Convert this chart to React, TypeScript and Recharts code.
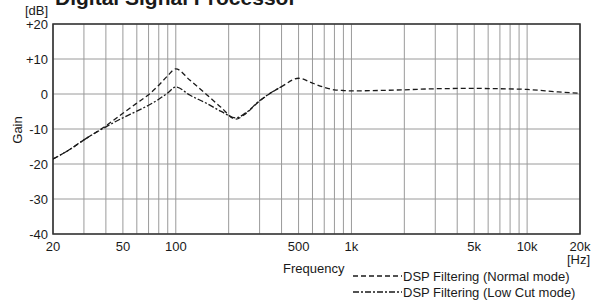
import { LineChart, CartesianGrid, XAxis, YAxis, Line, ReferenceArea } from 'recharts';

// frequency points (Hz)
const freqs = [20, 25, 30, 40, 50, 60, 70, 80, 90, 100, 120, 150, 180, 220, 250, 300, 400, 500, 600, 700, 800, 900, 1000, 2000, 3000, 5000, 7000, 10000, 15000, 20000];
// gain in dB
const normalMode = [-18.6, -15.8, -13.1, -9.1, -5.5, -2.6, -0.2, 2.5, 5.2, 7.2, 4.0, -0.2, -3.7, -7.2, -5.6, -2.0, 2.1, 4.5, 3.1, 1.9, 1.2, 1.0, 0.9, 1.2, 1.5, 1.6, 1.5, 1.3, 0.6, 0.2];
const lowCutMode = [-18.6, -15.8, -13.1, -9.4, -6.8, -4.9, -3.2, -1.5, 0.3, 2.0, -0.3, -2.7, -4.9, -6.8, -5.4, -1.9, 2.1, null, null, null, null, null, null, null, null, null, null, null, null, null];

const gridFreqs = [20, 30, 40, 50, 60, 70, 80, 90, 100, 200, 300, 400, 500, 600, 700, 800, 900, 1000, 2000, 3000, 4000, 5000, 6000, 7000, 8000, 9000, 10000, 20000];
const freqLabels: Record<number, string> = { 20: '20', 50: '50', 100: '100', 500: '500', 1000: '1k', 5000: '5k', 10000: '10k', 20000: '20k' };
const gainTicks = [-40, -30, -20, -10, 0, 10, 20];

const series = [
    { key: 'normal', name: 'DSP Filtering (Normal mode)', dash: '5 3' },
    { key: 'lowcut', name: 'DSP Filtering (Low Cut mode)', dash: '6 2 2 2' },
];

const chartData = freqs.map((f, i) => ({ f, normal: normalMode[i], lowcut: lowCutMode[i] }));

const font = '"Liberation Sans", Arial, sans-serif';
const ink = '#1a1a1a';

export default function App() {
    return (
        <div style={{ position: 'absolute', left: 0, top: 0, width: 598, height: 300, fontFamily: font, color: ink, overflow: 'hidden', background: '#fff' }}>
            <LineChart width={598} height={300} data={chartData} margin={{ top: 24, right: 18, bottom: 36, left: 0 }}>
                <CartesianGrid stroke="#9a9a9a" strokeWidth={1} />
                <XAxis
                    dataKey="f"
                    type="number"
                    scale="log"
                    domain={[20, 20000]}
                    ticks={gridFreqs}
                    interval={0}
                    allowDataOverflow
                    tickLine={false}
                    axisLine={false}
                    height={30}
                    tickSize={0}
                    tickMargin={8}
                    tickFormatter={(v: number) => freqLabels[v] || ''}
                    tick={{ fill: ink, fontSize: 13, fontFamily: font }}
                />
                <YAxis
                    type="number"
                    domain={[-40, 20]}
                    ticks={gainTicks}
                    interval={0}
                    width={53}
                    tickLine={false}
                    axisLine={false}
                    tickSize={0}
                    tickMargin={5}
                    tickFormatter={(v: number) => (v > 0 ? '+' + v : String(v))}
                    tick={{ fill: ink, fontSize: 13, fontFamily: font }}
                />
                <ReferenceArea x1={20} x2={20000} y1={-40} y2={20} fill="none" stroke="#333" strokeWidth={1.6} />
                {series.map(s => (
                    <Line
                        key={s.key}
                        type="monotone"
                        dataKey={s.key}
                        name={s.name}
                        stroke={ink}
                        strokeWidth={1.3}
                        strokeDasharray={s.dash}
                        dot={false}
                        connectNulls={false}
                        isAnimationActive={false}
                    />
                ))}
            </LineChart>

            <div style={{ position: 'absolute', left: 55, top: -13, fontSize: 21, fontWeight: 'bold', lineHeight: 1, whiteSpace: 'nowrap' }}>
                Digital Signal Processor
            </div>
            <div style={{ position: 'absolute', left: 0, width: 48, top: 4, fontSize: 13, lineHeight: 1, textAlign: 'right' }}>[dB]</div>
            <div style={{ position: 'absolute', left: 17, top: 130, fontSize: 13, lineHeight: 1, transform: 'translate(-50%, -50%) rotate(-90deg)' }}>Gain</div>
            <div style={{ position: 'absolute', left: 540, width: 50, top: 253, fontSize: 13, lineHeight: 1, textAlign: 'right' }}>[Hz]</div>
            <div style={{ position: 'absolute', left: 283, top: 262, fontSize: 13, lineHeight: 1 }}>Frequency</div>

            <div style={{ position: 'absolute', left: 353, top: 268 }}>
                {series.map(s => (
                    <div key={s.key} style={{ display: 'flex', alignItems: 'center', height: 16, fontSize: 13, whiteSpace: 'nowrap' }}>
                        <svg width={50} height={10} style={{ display: 'block' }}>
                            <line x1={0} y1={5} x2={49} y2={5} stroke={ink} strokeWidth={1.3} strokeDasharray={s.dash} />
                        </svg>
                        <span>{s.name}</span>
                    </div>
                ))}
            </div>
        </div>
    );
}
